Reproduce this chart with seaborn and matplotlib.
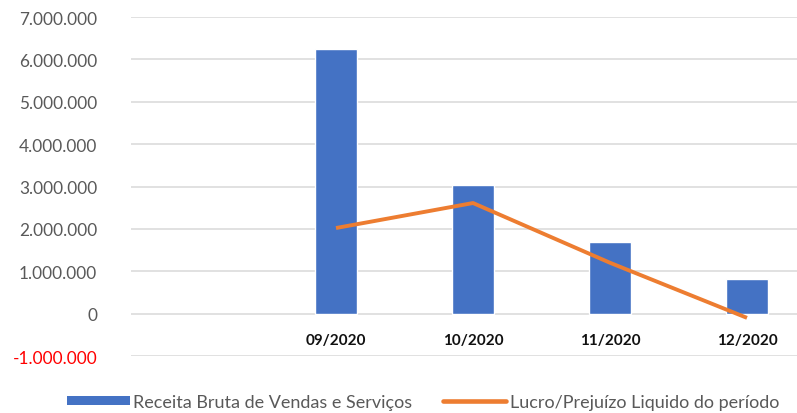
import numpy as np
import pandas as pd
import matplotlib
matplotlib.use("Agg")
import matplotlib.pyplot as plt
from matplotlib.patches import Patch
from matplotlib.lines import Line2D
from matplotlib.ticker import FuncFormatter
import seaborn as sns

# data -------------------------------------------------------------------
categories = ["", "09/2020", "10/2020", "11/2020", "12/2020"]
months = ["09/2020", "10/2020", "11/2020", "12/2020"]
receita = [6250000, 3030000, 1680000, 810000]
lucro = [2020000, 2610000, 1200000, -100000]
y_ticks = [-1000000, 0, 1000000, 2000000, 3000000, 4000000, 5000000, 6000000, 7000000]

bar_name = "Receita Bruta de Vendas e Serviços"
line_name = "Lucro/Prejuízo Liquido do período"

df = pd.DataFrame({"mes": months, "receita": receita, "lucro": lucro})

# style ------------------------------------------------------------------
sns.set_style("white")
plt.rcParams["font.family"] = ["Lato", "DejaVu Sans"]

blue = "#4472C4"
orange = "#ED7D31"
gray_txt = "#595959"

fig = plt.figure(figsize=(7.97, 4.14), dpi=100)
ax = fig.add_axes([130.5 / 797, 1 - 357 / 414, 1 - 130.5 / 797, (357 - 18) / 414])

sns.barplot(data=df, x="mes", y="receita", order=categories, color=blue,
            width=0.31, saturation=1, errorbar=None, ax=ax, zorder=2)
sns.pointplot(data=df, x="mes", y="lucro", order=categories, color=orange,
              markers="", linestyles="-", errorbar=None, ax=ax, zorder=3)
for ln in ax.lines:
    ln.set_linewidth(2.8)
    ln.set_solid_capstyle("butt")

ax.set_xlim(-0.5, -0.5 + (797 - 130.5) / 137)
ax.set_ylim(-1000000, 7000000)
ax.set_yticks(y_ticks)
ax.yaxis.set_major_formatter(FuncFormatter(lambda v, p: f"{v:,.0f}".replace(",", ".")))
ax.grid(axis="y", color="#d9d9d9", linewidth=1.1, zorder=0)
ax.grid(axis="x", visible=False)
ax.set_axisbelow(True)
for s in ax.spines.values():
    s.set_visible(False)
ax.spines["bottom"].set_position(("data", 0))

ax.set_xlabel("")
ax.set_ylabel("")
ax.tick_params(axis="y", length=0, pad=24, labelsize=12.4, labelcolor=gray_txt)
ax.tick_params(axis="x", length=0, pad=14, labelsize=11)
for lab in ax.get_xticklabels():
    lab.set_fontweight("bold")
    lab.set_color("#111111")
for lab in ax.get_yticklabels():
    if lab.get_text().startswith("-"):
        lab.set_color("#ff0000")

handles = [Patch(facecolor=blue, edgecolor="none"),
           Line2D([0], [0], color=orange, linewidth=3.3)]
fig.legend(handles, [bar_name, line_name], loc="center",
           bbox_to_anchor=(423 / 797, 1 - 403 / 414), ncol=2, frameon=False,
           fontsize=13, labelcolor=gray_txt, handlelength=3.5,
           handleheight=0.45, handletextpad=0.2, columnspacing=1.7)

fig.savefig("out.png", dpi=100)
